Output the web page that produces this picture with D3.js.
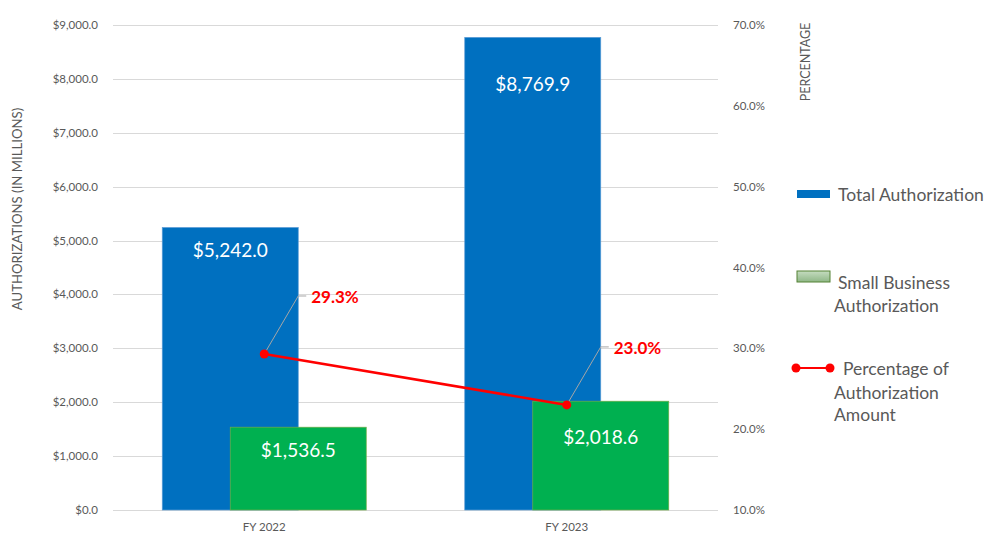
<!DOCTYPE html>
<html>
<head>
<meta charset="utf-8">
<script src="https://cdn.jsdelivr.net/npm/d3@7"></script>
<style>
  body { margin: 0; background: #fff; }
  text { font-family: Lato, "Open Sans", sans-serif; }
</style>
</head>
<body>
<div id="chart"></div>
<script>
// data
let years = ["FY 2022", "FY 2023"];
let totalAuth = [5242.0, 8769.9];
let smallBizAuth = [1536.5, 2018.6];
let pctAuth = [29.3, 23.0];
let leftTicks = [0, 1000, 2000, 3000, 4000, 5000, 6000, 7000, 8000, 9000];
let rightTicks = [10, 20, 30, 40, 50, 60, 70];

let width = 990, height = 536;
let plot = {left: 113, right: 718, top: 25, bottom: 510};

let svg = d3.select("#chart")
    .append("svg")
        .attr("width", width)
        .attr("height", height);

let x = d3.scaleBand()
    .domain(years)
    .range([plot.left, plot.right]);

let y = d3.scaleLinear()
    .domain([0, 9000])
    .range([plot.bottom, plot.top]);

let y2 = d3.scaleLinear()
    .domain([10, 70])
    .range([plot.bottom, plot.top]);

let fmtMoney = d => "$" + d3.format(",.1f")(d);
let grey = "#595959";

// gridlines + left axis
svg.append("g")
    .selectAll("line")
    .data(leftTicks)
    .enter()
    .append("line")
    .attr("x1", plot.left)
    .attr("x2", plot.right)
    .attr("y1", d => Math.round(y(d)) + 0.5)
    .attr("y2", d => Math.round(y(d)) + 0.5)
    .attr("stroke", "#d9d9d9")
    .attr("stroke-width", 1);

svg.append("g")
    .selectAll("text")
    .data(leftTicks)
    .enter()
    .append("text")
    .attr("x", 98)
    .attr("y", d => y(d))
    .attr("dy", "0.35em")
    .attr("text-anchor", "end")
    .attr("font-size", 11.5)
    .attr("fill", grey)
    .text(fmtMoney);

// right axis labels
svg.append("g")
    .selectAll("text")
    .data(rightTicks)
    .enter()
    .append("text")
    .attr("x", 733)
    .attr("y", d => y2(d))
    .attr("dy", "0.35em")
    .attr("font-size", 11.5)
    .attr("fill", grey)
    .text(d => d.toFixed(1) + "%");

// x labels
svg.append("g")
    .selectAll("text")
    .data(years)
    .enter()
    .append("text")
    .attr("x", d => x(d) + x.bandwidth() / 2)
    .attr("y", 527)
    .attr("dy", "0.35em")
    .attr("text-anchor", "middle")
    .attr("font-size", 11.5)
    .attr("fill", grey)
    .text(d => d);

// axis titles
svg.append("text")
    .attr("transform", "translate(22,209) rotate(-90)")
    .attr("text-anchor", "middle")
    .attr("font-size", 13.2)
    .attr("fill", grey)
    .text("AUTHORIZATIONS (IN MILLIONS)");

svg.append("text")
    .attr("transform", "translate(810,62) rotate(-90)")
    .attr("text-anchor", "middle")
    .attr("font-size", 12.5)
    .attr("fill", grey)
    .text("PERCENTAGE");

// bars
let barW = 136, off = 34;
let cx = d => x(d) + x.bandwidth() / 2;

svg.append("g")
    .selectAll("rect")
    .data(totalAuth)
    .enter()
    .append("rect")
    .attr("x", (d, i) => cx(years[i]) - off - barW / 2)
    .attr("y", d => y(d))
    .attr("width", barW)
    .attr("height", d => y(0) - y(d))
    .attr("fill", "#0070c0")
    .attr("stroke", "#5b9bd5")
    .attr("stroke-width", 0.7);

svg.append("g")
    .selectAll("rect")
    .data(smallBizAuth)
    .enter()
    .append("rect")
    .attr("x", (d, i) => cx(years[i]) + off - barW / 2)
    .attr("y", d => y(d))
    .attr("width", barW)
    .attr("height", d => y(0) - y(d))
    .attr("fill", "#00b050")
    .attr("stroke", "#70ad47")
    .attr("stroke-width", 0.7);

// bar value labels
let totalLabelDy = [23, 47];
let smallLabelDy = [23, 36];
svg.append("g")
    .selectAll("text")
    .data(totalAuth)
    .enter()
    .append("text")
    .attr("x", (d, i) => cx(years[i]) - off)
    .attr("y", (d, i) => y(d) + totalLabelDy[i])
    .attr("dy", "0.35em")
    .attr("text-anchor", "middle")
    .attr("font-size", 19)
    .attr("fill", "#fff")
    .text(fmtMoney);

svg.append("g")
    .selectAll("text")
    .data(smallBizAuth)
    .enter()
    .append("text")
    .attr("x", (d, i) => cx(years[i]) + off)
    .attr("y", (d, i) => y(d) + smallLabelDy[i])
    .attr("dy", "0.35em")
    .attr("text-anchor", "middle")
    .attr("font-size", 19)
    .attr("fill", "#fff")
    .text(fmtMoney);

// percentage line
let line = d3.line()
    .x((d, i) => cx(years[i]))
    .y(d => y2(d));

svg.append("path")
    .datum(pctAuth)
    .attr("d", line)
    .attr("fill", "none")
    .attr("stroke", "#ff0000")
    .attr("stroke-width", 2.5);

// leader lines + labels
svg.append("g")
    .selectAll("path")
    .data(pctAuth)
    .enter()
    .append("path")
    .attr("d", (d, i) => {
        let px = cx(years[i]), py = y2(d);
        return `M${px},${py} L${px + 34},${py - 58} L${px + 42},${py - 58}`;
    })
    .attr("fill", "none")
    .attr("stroke", "#a6a6a6")
    .attr("stroke-width", 1);

svg.append("g")
    .selectAll("circle")
    .data(pctAuth)
    .enter()
    .append("circle")
    .attr("cx", (d, i) => cx(years[i]))
    .attr("cy", d => y2(d))
    .attr("r", 4.5)
    .attr("fill", "#ff0000");

svg.append("g")
    .selectAll("text")
    .data(pctAuth)
    .enter()
    .append("text")
    .attr("x", (d, i) => cx(years[i]) + 47)
    .attr("y", d => y2(d) - 57)
    .attr("dy", "0.35em")
    .attr("font-size", 17)
    .attr("font-weight", "bold")
    .attr("fill", "#ff0000")
    .text(d => d.toFixed(1) + "%");

// legend
let lg = svg.append("g");
let legendFont = 17.5;
lg.append("rect")
    .attr("x", 797).attr("y", 190)
    .attr("width", 33).attr("height", 8)
    .attr("fill", "#0070c0");
lg.append("text")
    .attr("x", 838).attr("y", 195).attr("dy", "0.35em")
    .attr("font-size", legendFont).attr("fill", grey)
    .text("Total Authorization");

let grad = svg.append("defs").append("linearGradient")
    .attr("id", "gl").attr("x1", 0).attr("x2", 0).attr("y1", 0).attr("y2", 1);
grad.append("stop").attr("offset", 0).attr("stop-color", "#c5dcc0");
grad.append("stop").attr("offset", 1).attr("stop-color", "#8fb787");
lg.append("rect")
    .attr("x", 797).attr("y", 271)
    .attr("width", 33).attr("height", 11)
    .attr("fill", "url(#gl)")
    .attr("stroke", "#548235");
lg.append("text")
    .attr("x", 838).attr("y", 283).attr("dy", "0.35em")
    .attr("font-size", legendFont).attr("fill", grey)
    .text("Small Business");
lg.append("text")
    .attr("x", 834).attr("y", 306).attr("dy", "0.35em")
    .attr("font-size", legendFont).attr("fill", grey)
    .text("Authorization");

lg.append("line")
    .attr("x1", 796).attr("x2", 830)
    .attr("y1", 368).attr("y2", 368)
    .attr("stroke", "#ff0000").attr("stroke-width", 2);
[796, 830].forEach(px => {
    lg.append("circle").attr("cx", px).attr("cy", 368).attr("r", 4.5).attr("fill", "#ff0000");
});
lg.append("text")
    .attr("x", 843).attr("y", 369).attr("dy", "0.35em")
    .attr("font-size", legendFont).attr("fill", grey)
    .text("Percentage of");
lg.append("text")
    .attr("x", 834).attr("y", 393).attr("dy", "0.35em")
    .attr("font-size", legendFont).attr("fill", grey)
    .text("Authorization");
lg.append("text")
    .attr("x", 834).attr("y", 415).attr("dy", "0.35em")
    .attr("font-size", legendFont).attr("fill", grey)
    .text("Amount");
</script>
</body>
</html>
